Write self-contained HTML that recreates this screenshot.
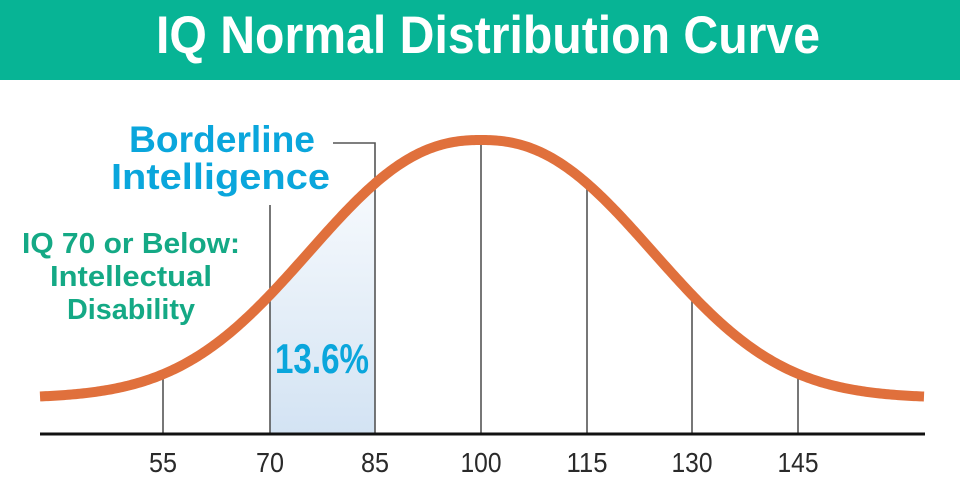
<!DOCTYPE html>
<html><head><meta charset="utf-8"><style>
html,body{margin:0;padding:0;background:#fff;}
svg{display:block;font-family:"Liberation Sans",sans-serif;}
</style></head><body>
<svg width="960" height="495" viewBox="0 0 960 495" xmlns="http://www.w3.org/2000/svg">
<defs>
<linearGradient id="g" x1="0" y1="0" x2="0" y2="1">
<stop offset="0" stop-color="#f7fafd"/><stop offset="1" stop-color="#d3e3f3"/>
</linearGradient>
</defs>
<rect x="0" y="0" width="960" height="80" fill="#07b495"/>
<text x="488" y="53" fill="#fff" font-size="53" font-weight="bold" text-anchor="middle" textLength="664" lengthAdjust="spacingAndGlyphs">IQ Normal Distribution Curve</text>
<path id="shade" fill="url(#g)" d=""/>
<g stroke="#555" stroke-width="1.6" fill="none">
<line x1="163" x2="163" y1="375" y2="433"/>
<line x1="270" x2="270" y1="205" y2="433"/>
<polyline points="333,143 375,143 375,433"/>
<line x1="481" x2="481" y1="140" y2="433"/>
<line x1="587" x2="587" y1="183" y2="433"/>
<line x1="692" x2="692" y1="297" y2="433"/>
<line x1="798" x2="798" y1="375" y2="433"/>
</g>
<path id="curve" fill="none" stroke="#e0703c" stroke-width="10" d=""/>
<line x1="40" x2="925" y1="434" y2="434" stroke="#111" stroke-width="3"/>
<g font-size="28" fill="#2a2a2a" text-anchor="middle" lengthAdjust="spacingAndGlyphs">
<text x="163" y="472" textLength="28" lengthAdjust="spacingAndGlyphs">55</text>
<text x="270" y="472" textLength="28" lengthAdjust="spacingAndGlyphs">70</text>
<text x="375" y="472" textLength="28" lengthAdjust="spacingAndGlyphs">85</text>
<text x="481" y="472" textLength="41" lengthAdjust="spacingAndGlyphs">100</text>
<text x="587" y="472" textLength="41" lengthAdjust="spacingAndGlyphs">115</text>
<text x="692" y="472" textLength="41" lengthAdjust="spacingAndGlyphs">130</text>
<text x="798" y="472" textLength="41" lengthAdjust="spacingAndGlyphs">145</text>
</g>
<g fill="#0aa6dc" font-weight="bold">
<text x="129" y="152" font-size="37" textLength="186" lengthAdjust="spacingAndGlyphs">Borderline</text>
<text x="111" y="189" font-size="36" textLength="219" lengthAdjust="spacingAndGlyphs">Intelligence</text>
<text x="275" y="373" font-size="42" textLength="94" lengthAdjust="spacingAndGlyphs">13.6%</text>
</g>
<g fill="#14a985" font-weight="bold" font-size="29">
<text x="22" y="253" textLength="218" lengthAdjust="spacingAndGlyphs">IQ 70 or Below:</text>
<text x="50" y="286" textLength="162" lengthAdjust="spacingAndGlyphs">Intellectual</text>
<text x="67" y="319" textLength="128" lengthAdjust="spacingAndGlyphs">Disability</text>
</g>
<script>
function y(x){var d=Math.abs(x-481);return 398-258*Math.exp(-Math.pow(d/219,2.33));}
var p="";for(var x=40;x<=925;x+=2){p+=(x==40?"M":"L")+x+","+y(x).toFixed(2);}
document.getElementById("curve").setAttribute("d",p);
var s="M270,433";for(var x=270;x<=375;x+=1){s+="L"+x+","+y(x).toFixed(2);}s+="L375,433Z";
document.getElementById("shade").setAttribute("d",s);
</script>
</svg>
</body></html>
